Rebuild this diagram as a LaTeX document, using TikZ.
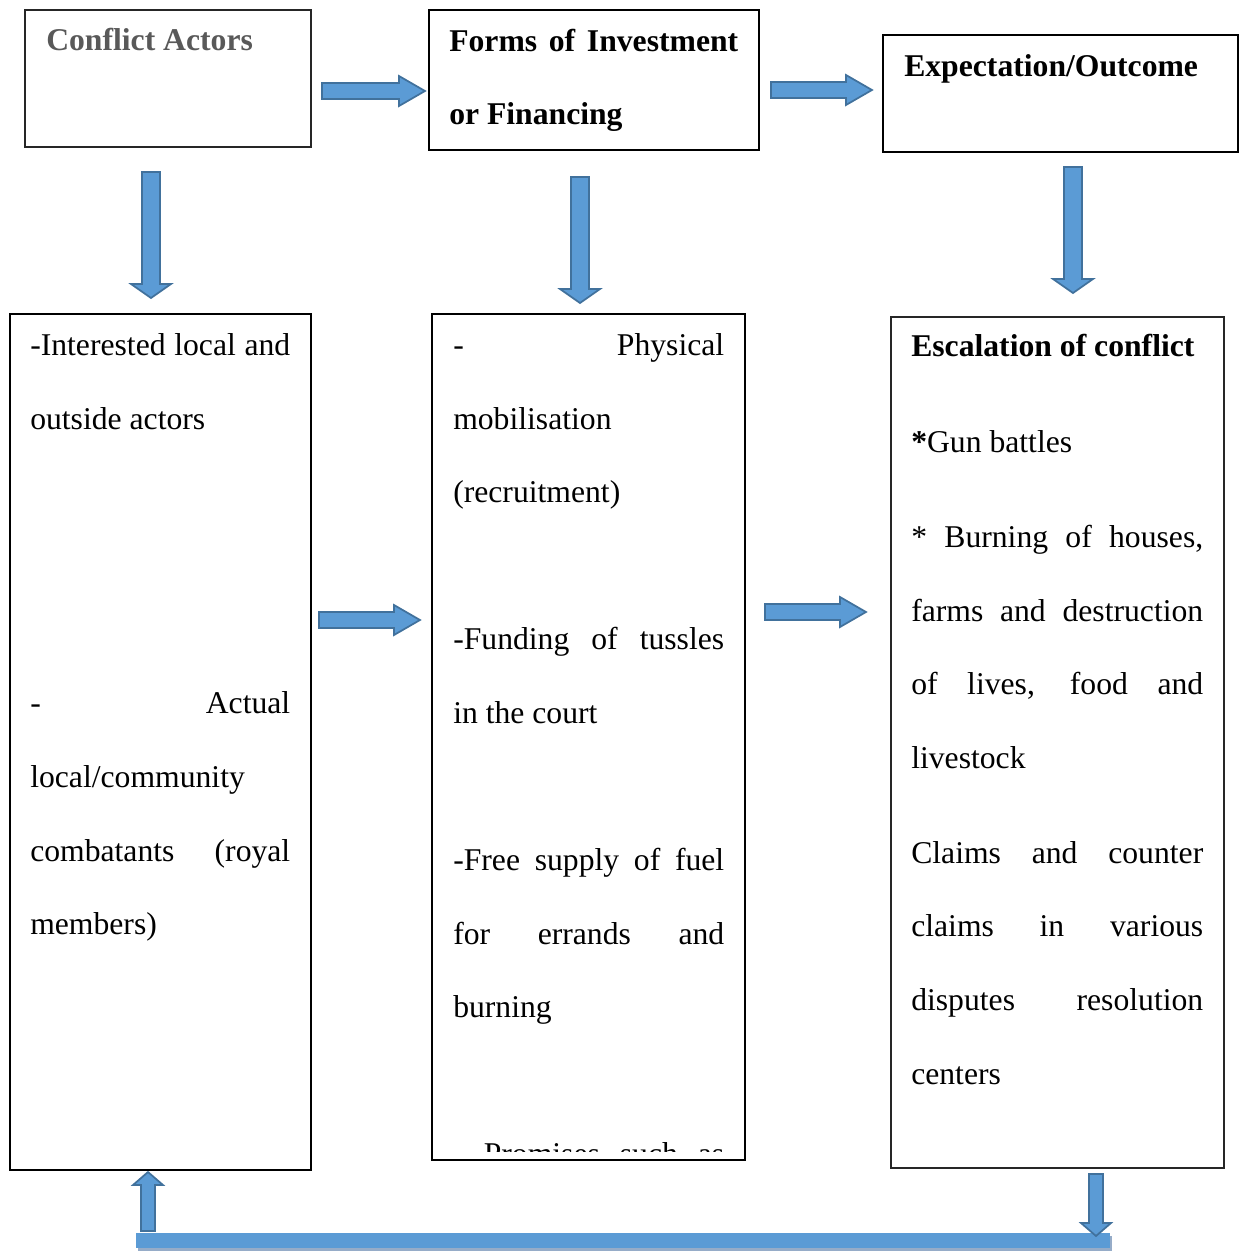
\documentclass[tikz,border=0pt]{standalone}
\usepackage{fontspec}
\setmainfont{Liberation Serif}
\definecolor{arrfill}{RGB}{91,155,213}
\definecolor{arrline}{RGB}{65,113,156}
\definecolor{titlegray}{RGB}{89,89,89}
\definecolor{barshadow}{RGB}{150,172,200}
\tikzset{
  blockarrow/.style={fill=arrfill,draw=arrline,line width=1.3pt,line join=miter},
  boxthin/.style={draw=black!85,line width=0.9pt},
  boxthick/.style={draw=black,line width=1.5pt},
  txt/.style={anchor=base west,inner sep=0pt,font=\fontsize{23.75}{28}\selectfont},
  btxt/.style={txt,font=\fontsize{23.75}{28}\selectfont\bfseries},
}
\newcommand\blkR[6]{%
  \filldraw[blockarrow] (#1,#3-#4) -- (#2-#6,#3-#4) -- (#2-#6,#3-#5) -- (#2,#3) -- (#2-#6,#3+#5) -- (#2-#6,#3+#4) -- (#1,#3+#4) -- cycle;}
\newcommand\blkD[6]{%
  \filldraw[blockarrow] (#1-#4,#2) -- (#1+#4,#2) -- (#1+#4,#3-#6) -- (#1+#5,#3-#6) -- (#1,#3) -- (#1-#5,#3-#6) -- (#1-#4,#3-#6) -- cycle;}
\newcommand\blkU[6]{%
  \filldraw[blockarrow] (#1-#4,#2) -- (#1+#4,#2) -- (#1+#4,#3+#6) -- (#1+#5,#3+#6) -- (#1,#3) -- (#1-#5,#3+#6) -- (#1-#4,#3+#6) -- cycle;}
\begin{document}
\begin{tikzpicture}[x=0.75pt,y=-0.75pt]
\useasboundingbox (0,0) rectangle (1243,1253);
% boxes
\draw[boxthin] (25,10) rectangle (311,147);
\draw[boxthick] (429,10) rectangle (759,150);
\draw[boxthick] (883,35) rectangle (1238,152);
\draw[boxthick] (10,314) rectangle (311,1170);
\draw[boxthick] (432,314) rectangle (745,1160);
\draw[boxthin] (891,317) rectangle (1224,1168);
% titles
\node[btxt,text=titlegray] (tA) at (46,50) {Conflict Actors};
\node[btxt] (tB1) at (449,51) {\makebox[216.75pt][s]{Forms of Investment}};
\node[btxt] (tB2) at (449,124) {or Financing};
\node[btxt] (tC) at (904,76) {Expectation/Outcome};
% left column text
\node[txt] (d1) at (30,355) {\makebox[195pt][s]{-Interested local and}};
\node[txt] (d2) at (30,429) {outside actors};
\node[txt] (d3) at (30,713) {\makebox[195pt][s]{- Actual}};
\node[txt] (d4) at (30,787) {local/community};
\node[txt] (d5) at (30,861) {\makebox[195pt][s]{combatants (royal}};
\node[txt] (d6) at (30,934) {members)};
% middle column text
\node[txt] (e1) at (453,355) {\makebox[203.25pt][s]{- Physical}};
\node[txt] (e2) at (453,429) {mobilisation};
\node[txt] (e3) at (453,502) {(recruitment)};
\node[txt] (e4) at (453,649) {\makebox[203.25pt][s]{-Funding of tussles}};
\node[txt] (e5) at (453,723) {in the court};
\node[txt] (e6) at (453,870) {\makebox[203.25pt][s]{-Free supply of fuel}};
\node[txt] (e7) at (453,944) {\makebox[203.25pt][s]{for errands and}};
\node[txt] (e8) at (453,1017) {burning};
\begin{scope}
\clip (433,1100) rectangle (744,1151);
\node[txt] (e9) at (453,1164) {\makebox[203.25pt][s]{- Promises such as}};
\end{scope}
% right column text
\node[btxt] (f1) at (911,356) {Escalation of conflict};
\node[txt] (f2) at (911,452) {\textbf{*}Gun battles};
\node[txt] (f3) at (911,547) {\makebox[219pt][s]{* Burning of houses,}};
\node[txt] (f4) at (911,621) {\makebox[219pt][s]{farms and destruction}};
\node[txt] (f5) at (911,694) {\makebox[219pt][s]{of lives, food and}};
\node[txt] (f6) at (911,768) {livestock};
\node[txt] (f7) at (911,863) {\makebox[219pt][s]{Claims and counter}};
\node[txt] (f8) at (911,936) {\makebox[219pt][s]{claims in various}};
\node[txt] (f9) at (911,1010) {\makebox[219pt][s]{disputes resolution}};
\node[txt] (f10) at (911,1084) {centers};
% arrows
\blkR{322}{425}{91}{8}{15}{26}
\blkR{771}{872}{90}{8}{15}{26}
\blkR{319}{420}{620}{8}{15}{26}
\blkR{765}{866}{612}{8}{15}{26}
\blkD{151}{172}{298}{9}{20}{14}
\blkD{580}{177}{303}{9}{20}{14}
\blkD{1073}{167}{293}{9}{20}{14}
% bottom bar
\fill[barshadow] (138,1236) rectangle (1112,1251);
\fill[arrfill] (136,1233) rectangle (1110,1248);
\blkU{148}{1231}{1172}{7}{15}{13}
\blkD{1096}{1174}{1236}{7}{15}{13}
\end{tikzpicture}
\end{document}
